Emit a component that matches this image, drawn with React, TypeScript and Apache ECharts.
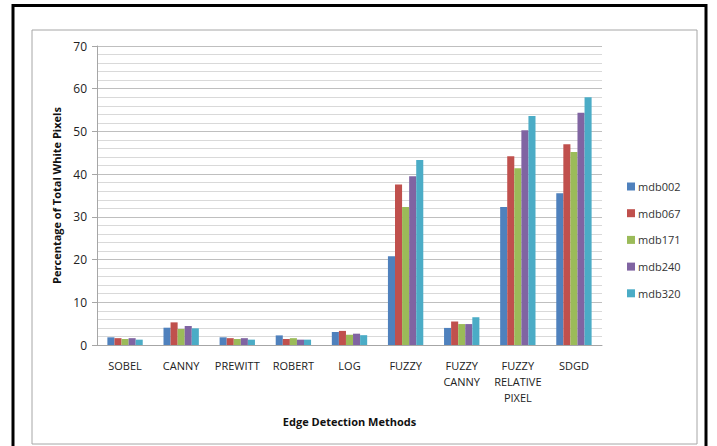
import React, { useEffect, useRef } from "react";
import * as echarts from "echarts";

const categories = ["SOBEL", "CANNY", "PREWITT", "ROBERT", "LOG", "FUZZY", "FUZZY\nCANNY", "FUZZY\nRELATIVE\nPIXEL", "SDGD"];
const seriesNames = ["mdb002", "mdb067", "mdb171", "mdb240", "mdb320"];
const mdb002 = [1.8, 4.05, 1.8, 2.25, 3.05, 20.8, 4.0, 32.3, 35.5];
const mdb067 = [1.6, 5.3, 1.6, 1.4, 3.3, 37.6, 5.5, 44.2, 47.0];
const mdb171 = [1.4, 3.75, 1.4, 1.6, 2.4, 32.3, 4.9, 41.4, 45.2];
const mdb240 = [1.6, 4.45, 1.6, 1.25, 2.65, 39.5, 4.9, 50.3, 54.4];
const mdb320 = [1.25, 3.9, 1.25, 1.25, 2.3, 43.3, 6.5, 53.6, 58.0];
const colors = ["#4F81BD", "#C0504D", "#9BBB59", "#8064A2", "#4BACC6"];
const yTicks = [0, 10, 20, 30, 40, 50, 60, 70];

export default function App() {
  const ref = useRef<HTMLDivElement>(null);
  useEffect(() => {
    const chart = echarts.init(ref.current!, null, { renderer: "svg" });
    const data = [mdb002, mdb067, mdb171, mdb240, mdb320];
    const font = "'Open Sans', 'Liberation Sans', sans-serif";
    chart.setOption({
      animation: false,
      backgroundColor: "#ffffff",
      textStyle: { fontFamily: font },
      grid: { left: 97, right: 115, top: 46, bottom: 101 },
      legend: {
        orient: "vertical",
        left: 622,
        top: 176,
        itemWidth: 8,
        itemHeight: 8,
        itemGap: 15.7,
        icon: "rect",
        data: seriesNames,
        textStyle: { fontSize: 11, color: "#333", fontFamily: font, padding: [0, 0, 0, -2] },
      },
      xAxis: {
        type: "category",
        data: categories,
        axisLine: { lineStyle: { color: "#a6a6a6" } },
        axisTick: { show: false },
        axisLabel: { color: "#222", fontSize: 11, margin: 12, lineHeight: 16, interval: 0, fontFamily: font },
        name: "Edge Detection Methods",
        nameLocation: "middle",
        nameGap: 71,
        nameTextStyle: { fontWeight: "bold", fontSize: 11, color: "#111", fontFamily: font },
      },
      yAxis: {
        type: "value",
        min: yTicks[0],
        max: yTicks[yTicks.length - 1],
        interval: 10,
        axisLine: { show: true, lineStyle: { color: "#a6a6a6" } },
        axisTick: { show: true, length: 5, lineStyle: { color: "#a6a6a6" } },
        axisLabel: { color: "#222", fontSize: 12, margin: 10, fontFamily: font },
        splitLine: { lineStyle: { color: "#bfbfbf", width: 1 } },
        minorTick: { show: false, splitNumber: 5 },
        minorSplitLine: { show: true, lineStyle: { color: "#d9d9d9", width: 1 } },
        name: "Percentage of Total White Pixels",
        nameLocation: "middle",
        nameGap: 28,
        nameTextStyle: { fontWeight: "bold", fontSize: 11, color: "#111", fontFamily: font },
      },
      series: seriesNames.map((n, i) => ({
        name: n,
        type: "bar",
        data: data[i],
        itemStyle: { color: colors[i] },
        barGap: "0%",
        barCategoryGap: "37%",
      })),
      graphic: [
        {
          type: "rect",
          shape: { x: 32, y: 30, width: 665, height: 414 },
          style: { fill: "none", stroke: "#a6a6a6", lineWidth: 1 },
          silent: true,
        },
        {
          type: "rect",
          shape: { x: 13, y: 5.5, width: 693, height: 446 },
          style: { fill: "none", stroke: "#000", lineWidth: 3 },
          silent: true,
        },
      ],
    });
    return () => chart.dispose();
  }, []);
  return <div ref={ref} style={{ position: "fixed", left: 0, top: 0, width: 717, height: 446 }} />;
}
